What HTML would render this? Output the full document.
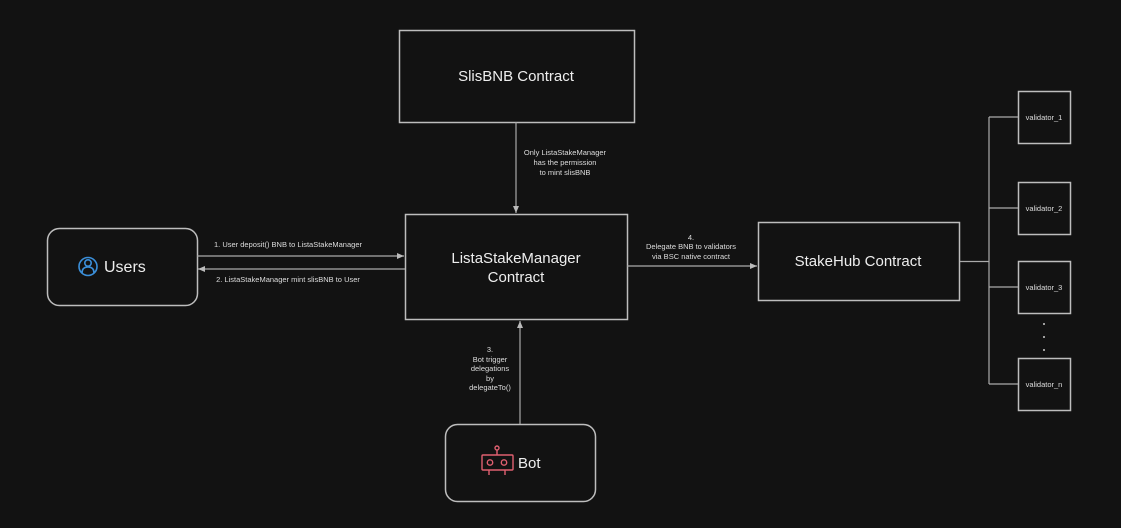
<!DOCTYPE html>
<html><head><style>
html,body{margin:0;padding:0;background:#121212;}
svg{display:block;font-family:"Liberation Sans",sans-serif;}
</style></head><body>
<svg width="1121" height="528" viewBox="0 0 1121 528" xmlns="http://www.w3.org/2000/svg">
<rect width="1121" height="528" fill="#121212"/>
<defs>
<marker id="a" markerWidth="8" markerHeight="8" refX="7" refY="4" orient="auto" markerUnits="userSpaceOnUse">
<path d="M0,1 L7,4 L0,7 Z" fill="#bbb"/></marker>
</defs>
<g fill="none" stroke="#bdbdbd" stroke-width="1.5">
<rect x="399.5" y="30.5" width="235" height="92"/>
<rect x="405.5" y="214.5" width="222" height="105"/>
<rect x="758.5" y="222.5" width="201" height="78"/>
<rect x="47.5" y="228.5" width="150" height="77" rx="12"/>
<rect x="445.5" y="424.5" width="150" height="77" rx="12"/>
<rect x="1018.5" y="91.5" width="52" height="52"/>
<rect x="1018.5" y="182.5" width="52" height="52"/>
<rect x="1018.5" y="261.5" width="52" height="52"/>
<rect x="1018.5" y="358.5" width="52" height="52"/>
</g>
<g stroke="#aaa" stroke-width="1.2" fill="none">
<line x1="516" y1="122" x2="516" y2="213" marker-end="url(#a)"/>
<line x1="197" y1="256" x2="404" y2="256" marker-end="url(#a)"/>
<line x1="405" y1="269" x2="198" y2="269" marker-end="url(#a)"/>
<line x1="627" y1="266" x2="757" y2="266" marker-end="url(#a)"/>
<line x1="520" y1="424" x2="520" y2="321" marker-end="url(#a)"/>
<line x1="960" y1="261.5" x2="989" y2="261.5"/>
<line x1="989" y1="117" x2="989" y2="384"/>
<line x1="989" y1="117" x2="1018" y2="117"/>
<line x1="989" y1="208" x2="1018" y2="208"/>
<line x1="989" y1="287" x2="1018" y2="287"/>
<line x1="989" y1="384" x2="1018" y2="384"/>
</g>
<g fill="#eee" text-anchor="middle">
<text x="516" y="81" font-size="15">SlisBNB Contract</text>
<text x="516" y="263" font-size="15">ListaStakeManager</text>
<text x="516" y="282" font-size="15">Contract</text>
<text x="858" y="266" font-size="15">StakeHub Contract</text>
<text x="104" y="272" font-size="16" text-anchor="start">Users</text>
<text x="518" y="468" font-size="15" text-anchor="start">Bot</text>
</g>
<g fill="#ddd" font-size="7.5" text-anchor="middle">
<text x="565" y="155">Only ListaStakeManager</text>
<text x="565" y="165">has the permission</text>
<text x="565" y="175">to mint slisBNB</text>
<text x="288" y="247">1. User deposit() BNB to ListaStakeManager</text>
<text x="288" y="282">2. ListaStakeManager mint slisBNB to User</text>
<text x="691" y="240">4.</text>
<text x="691" y="249">Delegate BNB to validators</text>
<text x="691" y="259">via BSC native contract</text>
<text x="490" y="352">3.</text>
<text x="490" y="362">Bot trigger</text>
<text x="490" y="371">delegations</text>
<text x="490" y="381">by</text>
<text x="490" y="390">delegateTo()</text>
<text x="1044" y="120">validator_1</text>
<text x="1044" y="211">validator_2</text>
<text x="1044" y="290">validator_3</text>
<text x="1044" y="387">validator_n</text>
</g>
<g fill="#ccc"><circle cx="1044" cy="324" r="1"/><circle cx="1044" cy="337" r="1"/><circle cx="1044" cy="350" r="1"/></g>
<g stroke="#3b8fd9" stroke-width="1.6" fill="none">
<circle cx="88" cy="266.5" r="9"/>
<circle cx="88" cy="263" r="3.2"/>
<path d="M82,273 Q82,267 88,267 Q94,267 94,273"/>
</g>
<g stroke="#e06070" stroke-width="1.4" fill="none">
<circle cx="497" cy="448" r="2"/>
<line x1="497" y1="450" x2="497" y2="455"/>
<rect x="482" y="455" width="31" height="15" rx="1"/>
<circle cx="490" cy="462.5" r="2.7"/>
<circle cx="504" cy="462.5" r="2.7"/>
<line x1="489" y1="470" x2="489" y2="475"/>
<line x1="505" y1="470" x2="505" y2="475"/>
</g>
</svg>
</body></html>
